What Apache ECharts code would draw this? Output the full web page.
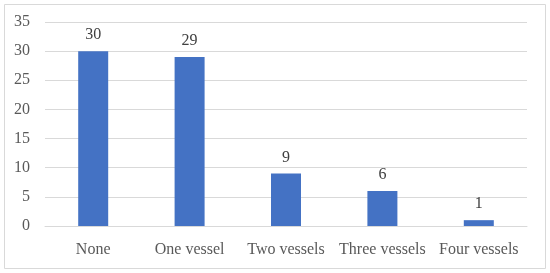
<!DOCTYPE html>
<html>
<head>
<meta charset="utf-8">
<script src="https://cdn.jsdelivr.net/npm/echarts@6/dist/echarts.min.js"></script>
<style>
  html, body { margin: 0; padding: 0; background: #fff; }
  #chart { width: 550px; height: 273px; }
</style>
</head>
<body>
<div id="chart"></div>
<script>
var categories = ['None', 'One vessel', 'Two vessels', 'Three vessels', 'Four vessels'];
var counts = [30, 29, 9, 6, 1];

var fontName = 'Liberation Serif';

var option = {
    animation: false,
    graphic: [
        {
            type: 'rect',
            shape: {x: 4.5, y: 4.5, width: 541, height: 264},
            style: {fill: 'none', stroke: '#d9d9d9', lineWidth: 1}
        }
    ],
    grid: {left: 45, right: 23, top: 22, bottom: 47},
    xAxis: {
        type: 'category',
        data: categories,
        axisLine: {lineStyle: {color: '#d9d9d9'}},
        axisTick: {show: false},
        axisLabel: {color: '#595959', fontFamily: fontName, fontSize: 16, margin: 16, interval: 0}
    },
    yAxis: {
        type: 'value',
        min: 0,
        max: 35,
        interval: 5,
        axisLine: {show: false},
        axisTick: {show: false},
        splitLine: {lineStyle: {color: '#d9d9d9'}},
        axisLabel: {color: '#595959', fontFamily: fontName, fontSize: 16, margin: 15}
    },
    series: [
        {
            type: 'bar',
            data: counts,
            barWidth: 30,
            itemStyle: {color: '#4472c4'},
            label: {
                show: true,
                position: 'top',
                distance: 8,
                color: '#404040',
                fontFamily: fontName,
                fontSize: 16
            }
        }
    ]
};

var chart = echarts.init(document.getElementById('chart'));
chart.setOption(option);
</script>
</body>
</html>
